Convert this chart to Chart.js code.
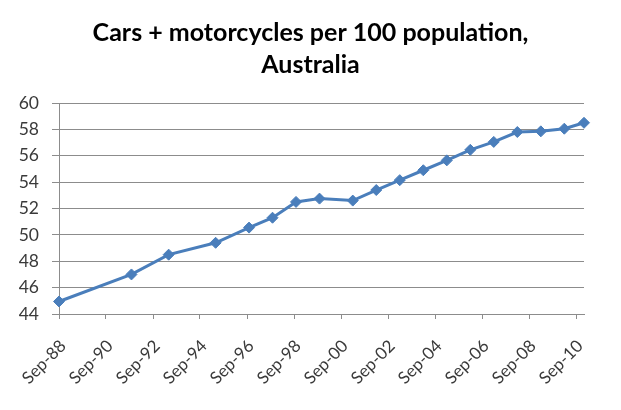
<!DOCTYPE html>
<html>
<head>
<meta charset="utf-8">
<script src="https://cdn.jsdelivr.net/npm/chart.js@4.4.1/dist/chart.umd.min.js"></script>
<style>
  html, body { margin: 0; padding: 0; background: #ffffff; }
  #wrap { width: 621px; height: 410px; position: relative; }
</style>
</head>
<body>
<div id="wrap"><canvas id="c"></canvas></div>
<script>
// Survey (census) dates and values: cars + motorcycles per 100 population
const surveyDates = [
  '1988-09-30', '1991-10-31', '1993-05-31', '1995-05-31', '1996-10-31',
  '1997-10-31', '1998-10-31', '1999-10-31', '2001-03-31', '2002-03-31',
  '2003-03-31', '2004-03-31', '2005-03-31', '2006-03-31', '2007-03-31',
  '2008-03-31', '2009-03-31', '2010-03-31', '2011-01-31'
];
const vehiclesPer100 = [
  44.95, 47.0, 48.5, 49.4, 50.55,
  51.3, 52.5, 52.75, 52.6, 53.4,
  54.15, 54.9, 55.65, 56.45, 57.05,
  57.8, 57.85, 58.05, 58.5
];
const tickDates = [
  '1988-09-30', '1990-09-30', '1992-09-30', '1994-09-30', '1996-09-30', '1998-09-30',
  '2000-09-30', '2002-09-30', '2004-09-30', '2006-09-30', '2008-09-30', '2010-09-30'
];
const tickLabels = [
  'Sep-88', 'Sep-90', 'Sep-92', 'Sep-94', 'Sep-96', 'Sep-98',
  'Sep-00', 'Sep-02', 'Sep-04', 'Sep-06', 'Sep-08', 'Sep-10'
];
const yTicks = [44, 46, 48, 50, 52, 54, 56, 58, 60];
const titleLines = ['Cars + motorcycles per 100 population,', 'Australia'];

const toDay = s => Date.UTC(+s.slice(0, 4), +s.slice(5, 7) - 1, +s.slice(8, 10)) / 86400000;
const points = surveyDates.map((d, i) => ({ x: toDay(d), y: vehiclesPer100[i] }));
const tickDays = tickDates.map(toDay);

const gridCol = '#8c8c8c';
const textCol = '#3a3a3a';
const blue = '#4a7ebb';

new Chart(document.getElementById('c'), {
  type: 'line',
  data: {
    datasets: [{
      data: points,
      borderColor: blue,
      backgroundColor: blue,
      borderWidth: 3,
      pointStyle: 'rectRot',
      pointRadius: 5.5,
      pointBorderWidth: 1,
      pointBackgroundColor: blue,
      pointBorderColor: blue,
      tension: 0,
      fill: false,
      clip: false
    }]
  },
  options: {
    responsive: true,
    maintainAspectRatio: false,
    animation: false,
    devicePixelRatio: 1,
    layout: { padding: 0 },
    plugins: {
      legend: { display: false },
      tooltip: { enabled: false },
      title: {
        display: true,
        text: titleLines,
        color: '#000000',
        font: { family: 'Lato', size: 25, weight: 'bold', lineHeight: 1.28 },
        padding: { top: 17, bottom: 22 }
      }
    },
    scales: {
      x: {
        type: 'linear',
        min: toDay(surveyDates[0]),
        max: toDay(surveyDates[surveyDates.length - 1]),
        afterBuildTicks: s => { s.ticks = tickDays.map(v => ({ value: v })); },
        afterFit: s => { s.height = 96; },
        grid: { drawOnChartArea: false, drawTicks: true, tickLength: 5, color: gridCol, lineWidth: 1 },
        border: { display: true, color: gridCol, width: 1 },
        ticks: {
          autoSkip: false,
          maxRotation: 45,
          minRotation: 45,
          padding: 17,
          labelOffset: 4,
          color: textCol,
          font: { family: 'Lato', size: 17 },
          callback: v => { const i = tickDays.indexOf(v); return i >= 0 ? tickLabels[i] : ''; }
        }
      },
      y: {
        min: yTicks[0],
        max: yTicks[yTicks.length - 1],
        afterBuildTicks: s => { s.ticks = yTicks.map(v => ({ value: v })); },
        afterFit: s => { s.width = 59; },
        grid: { drawOnChartArea: true, drawTicks: true, tickLength: 7, color: gridCol, lineWidth: 1 },
        border: { display: true, color: gridCol, width: 1 },
        ticks: {
          padding: 13,
          color: textCol,
          font: { family: 'Lato', size: 17.5 }
        }
      },
      spacer: {
        type: 'linear',
        position: 'right',
        display: true,
        afterFit: s => { s.width = 37; },
        grid: { display: false, drawTicks: false },
        border: { display: false },
        ticks: { display: false }
      }
    }
  }
});
</script>
</body>
</html>
